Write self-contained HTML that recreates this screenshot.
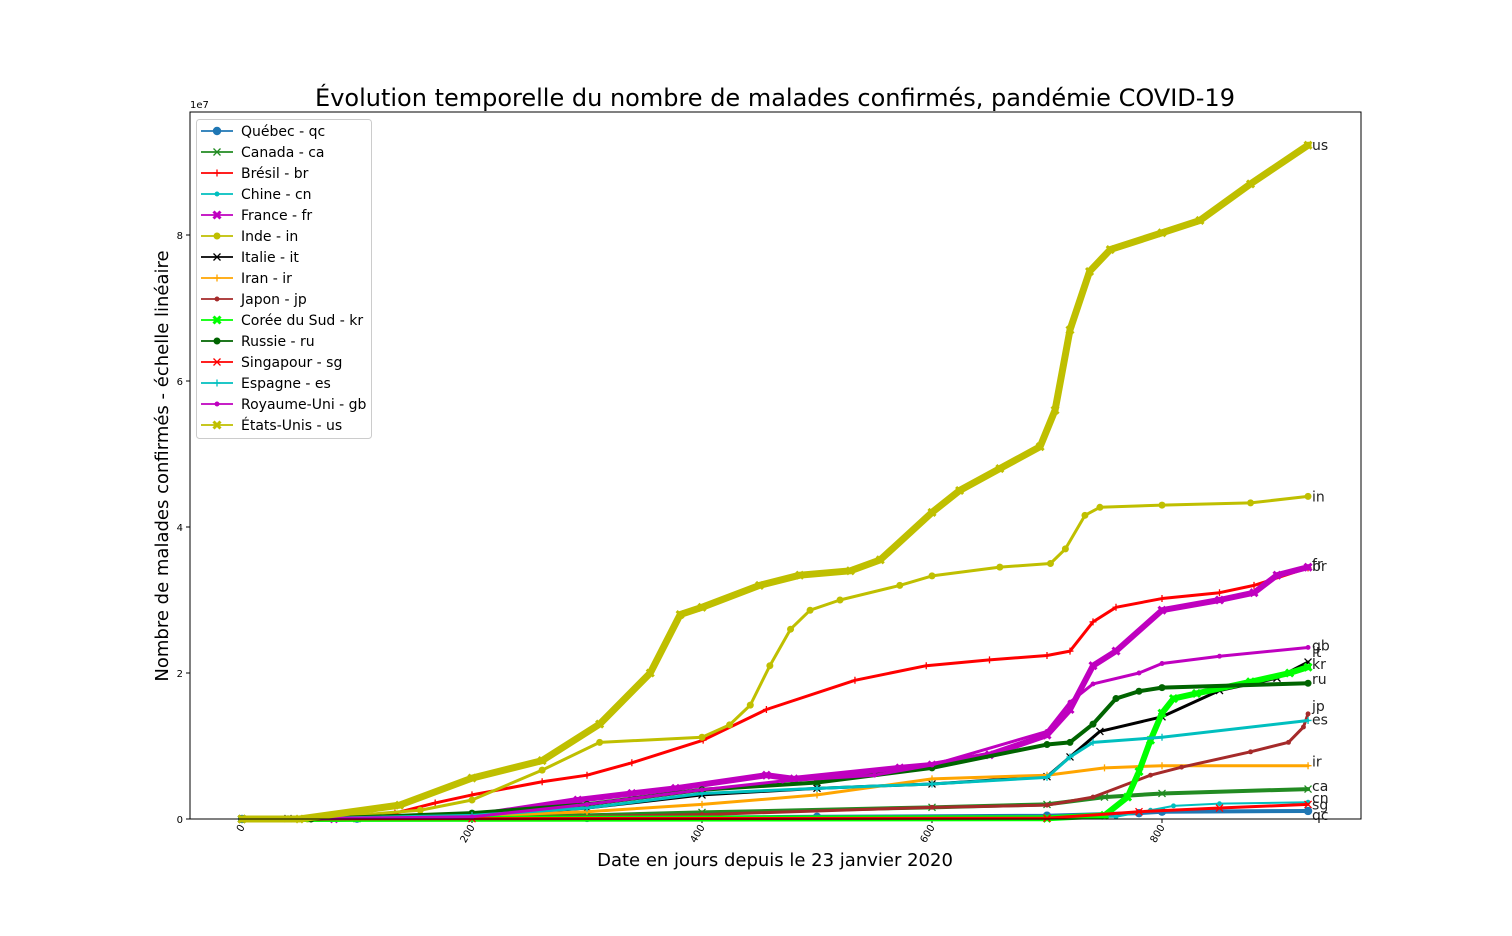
<!DOCTYPE html>
<html><head><meta charset="utf-8"><style>
body{margin:0;background:#fff;}
svg{display:block;font-family:"DejaVu Sans","Liberation Sans",sans-serif;}
</style></head><body>
<svg id="chart" width="1512" height="936">
<rect x="0" y="0" width="1512" height="936" fill="#fff"/>
<text x="775" y="106" font-size="24" text-anchor="middle" fill="#000">Évolution temporelle du nombre de malades confirmés, pandémie COVID-19</text>
<text x="775" y="866" font-size="18" text-anchor="middle" fill="#000">Date en jours depuis le 23 janvier 2020</text>
<text transform="translate(168,466) rotate(-90)" font-size="18" text-anchor="middle" fill="#000">Nombre de malades confirmés - échelle linéaire</text>
<text x="190" y="108" font-size="10" fill="#000">1e7</text>
<g id="axes"></g>
<g id="series"></g>
<g id="labels"></g>
<rect x="190" y="112" width="1171" height="707" fill="none" stroke="#000" stroke-width="1"/>
<g id="legend"></g>
</svg>
<script>
const codes = ["qc","ca","br","cn","fr","in","it","ir","jp","kr","ru","sg","es","gb","us"];
const names = ["Québec - qc","Canada - ca","Brésil - br","Chine - cn","France - fr","Inde - in","Italie - it","Iran - ir","Japon - jp","Corée du Sud - kr","Russie - ru","Singapour - sg","Espagne - es","Royaume-Uni - gb","États-Unis - us"];
const colors = ["#1f77b4","#228b22","#ff0000","#00bfbf","#bf00bf","#bfbf00","#000000","#ffa500","#a52a2a","#00ff00","#006400","#ff0000","#00bfbf","#bf00bf","#bfbf00"];
const markers = ["o","x","+",".","X","*","x","+",".","X","*","x","+",".","X"];
const xTicks = [0,200,400,600,800];
const yTicks = [0,2,4,6,8];
// values in millions, [day, value]
const qcData = [[0,0],[100,0.05],[300,0.15],[500,0.3],[700,0.45],[780,0.8],[800,1.0],[927,1.1]];
const caData = [[0,0],[100,0.05],[300,0.5],[400,0.9],[600,1.6],[700,2.0],[750,3.0],[800,3.5],[927,4.1]];
const brData = [[0,0],[60,0],[133,0.8],[168,2.2],[200,3.3],[261,5.1],[300,6.0],[339,7.7],[401,10.8],[456,15],[533,19],[595,21],[650,21.8],[700,22.4],[720,23],[740,27],[760,29],[800,30.2],[850,31],[880,32],[927,34.4]];
const cnData = [[0,0],[30,0.08],[300,0.1],[600,0.12],[760,0.3],[790,1.2],[810,1.8],[850,2.1],[927,2.3]];
const frData = [[0,0],[80,0.02],[200,0.4],[292,2.6],[339,3.5],[377,4.2],[456,6.0],[480,5.5],[572,7.0],[600,7.4],[650,8.8],[700,11.5],[720,15],[740,21],[760,23],[800,28.6],[850,30],[880,31],[900,33.4],[927,34.5]];
const inData = [[0,0],[57,0],[155,1.2],[200,2.6],[261,6.7],[311,10.5],[400,11.2],[424,12.9],[442,15.6],[459,21],[477,26],[494,28.6],[520,30],[572,32],[600,33.3],[659,34.5],[703,35],[716,37],[733,41.6],[746,42.7],[800,43],[877,43.3],[927,44.2]];
const itData = [[0,0],[40,0.05],[200,0.3],[300,1.5],[400,3.3],[500,4.2],[600,4.8],[700,5.8],[720,8.5],[746,12],[800,14],[850,17.6],[900,19.3],[927,21.5]];
const irData = [[0,0],[40,0.02],[200,0.4],[300,1.0],[400,2.0],[500,3.3],[600,5.5],[700,6.0],[750,7.0],[800,7.3],[927,7.3]];
const jpData = [[0,0],[200,0.1],[400,0.6],[600,1.6],[700,1.9],[740,3],[790,6],[817,7.1],[877,9.2],[910,10.5],[923,12.6],[927,14.4]];
const krData = [[0,0],[700,0.1],[750,0.5],[770,3],[780,6.5],[790,10.8],[800,14.5],[810,16.5],[830,17.2],[877,18.8],[911,20],[927,20.8]];
const ruData = [[0,0],[60,0],[200,0.8],[300,2.0],[400,4.0],[500,5.0],[600,7.0],[700,10.2],[720,10.5],[740,13],[760,16.5],[780,17.5],[800,18],[927,18.6]];
const sgData = [[0,0],[200,0.05],[700,0.1],[780,1.0],[850,1.5],[927,2.0]];
const esData = [[0,0],[40,0.02],[200,0.5],[300,1.5],[400,3.5],[500,4.2],[600,4.8],[700,5.7],[720,8.5],[740,10.5],[800,11.2],[927,13.5]];
const gbData = [[0,0],[40,0.02],[200,0.3],[300,2.0],[400,4.0],[470,5.2],[550,6.0],[600,7.4],[700,12],[720,16],[740,18.5],[780,20],[800,21.3],[850,22.3],[927,23.5]];
const usData = [[0,0],[50,0],[137,1.9],[200,5.6],[261,8],[311,13],[355,20],[381,28],[400,29],[450,32],[485,33.4],[529,34],[555,35.5],[600,42],[624,45],[659,48],[694,51],[707,56],[720,67],[737,75],[755,78],[800,80.3],[833,82],[877,87],[927,92.3]];
const seriesData = [qcData,caData,brData,cnData,frData,inData,itData,irData,jpData,krData,ruData,sgData,esData,gbData,usData];
const widths = [4,4,3,2,6,3,3,3,3,6,4,3,3,3,7];
const labelDy = [4,-3,-2,-4,-3,0,-10,-4,-8,-3,-4,0,-1,-2,0];

const NS="http://www.w3.org/2000/svg";
const X0=242, XPD=1.15, Y0=819, YPM=7.3;
function xs(d){return X0+d*XPD;}
function ys(v){return Y0-v*YPM;}
function mk(tag,attrs,parent){const e=document.createElementNS(NS,tag);for(const k in attrs)e.setAttribute(k,attrs[k]);parent.appendChild(e);return e;}

const axes=document.getElementById('axes');
xTicks.forEach(t=>{
  const x=xs(t);
  const l=mk('line',{x1:x,y1:819,x2:x,y2:823,stroke:'#000'},axes);
  
  
  const tx=mk('text',{x:0,y:0,'font-size':10,'text-anchor':'end',transform:`translate(${x+3},${827}) rotate(-60)`},axes);
  tx.textContent=t;
  
  
});
yTicks.forEach(t=>{
  const y=ys(t*10);
  const l=mk('line',{x1:186,y1:y,x2:190,y2:y,stroke:'#000'},axes);
  
  
  const tx=mk('text',{x:183,y:y+4,'font-size':10,'text-anchor':'end'},axes);
  tx.textContent=t;
  
  
});

function drawMarker(g,type,x,y,c,s){
  let e;
  if(type==='o'){e=mk('circle',{cx:x,cy:y,r:s*0.6,fill:c},g);}
  else if(type==='.'){e=mk('circle',{cx:x,cy:y,r:s*0.35,fill:c},g);}
  else if(type==='x'){e=mk('path',{d:`M${x-s/2},${y-s/2}L${x+s/2},${y+s/2}M${x-s/2},${y+s/2}L${x+s/2},${y-s/2}`,stroke:c,'stroke-width':1.3,fill:'none'},g);}
  else if(type==='+'){e=mk('path',{d:`M${x-s/2},${y}L${x+s/2},${y}M${x},${y-s/2}L${x},${y+s/2}`,stroke:c,'stroke-width':1.3,fill:'none'},g);}
  else if(type==='X'){e=mk('path',{d:`M${x-s/2},${y-s/2}L${x+s/2},${y+s/2}M${x-s/2},${y+s/2}L${x+s/2},${y-s/2}`,stroke:c,'stroke-width':3,fill:'none'},g);}
  else {e=mk('circle',{cx:x,cy:y,r:s*0.5,fill:c},g);}
  return e;
}

const sg=document.getElementById('series');
const lg=document.getElementById('labels');
seriesData.forEach((data,i)=>{
  const g=mk('g',{},sg);
  
  
  const pts=data.map(p=>xs(p[0])+','+ys(p[1])).join(' ');
  const pl=mk('polyline',{points:pts,fill:'none',stroke:colors[i],'stroke-width':widths[i],'stroke-linejoin':'round','stroke-linecap':'round'},g);
  
  
  data.forEach(p=>{
    const m=drawMarker(g,markers[i],xs(p[0]),ys(p[1]),colors[i],7);
    
    
  });
  const last=data[data.length-1];
  const t=mk('text',{x:xs(last[0])+4,y:ys(last[1])+5+labelDy[i],'font-size':14,fill:'#222'},lg);
  t.textContent=codes[i];
  
  
});

const leg=document.getElementById('legend');
const box=mk('rect',{x:196.5,y:119.5,width:175,height:319,rx:3,fill:'#fff','fill-opacity':0.85,stroke:'#ccc'},leg);


names.forEach((n,i)=>{
  const y=131+i*21;
  const g=mk('g',{},leg);
  
  
  mk('line',{x1:201,y1:y,x2:233,y2:y,stroke:colors[i],'stroke-width':1.8},g);
  drawMarker(g,markers[i],217,y,colors[i],7);
  const t=mk('text',{x:241,y:y+5,'font-size':14,fill:'#000'},g);
  t.textContent=n;
});
</script>
</body></html>
